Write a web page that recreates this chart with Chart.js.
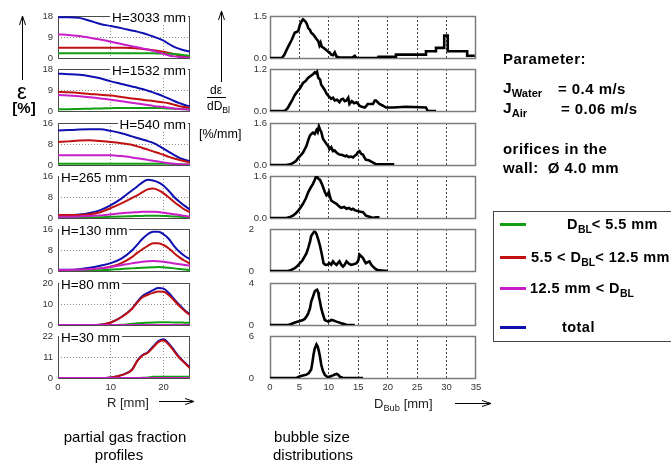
<!DOCTYPE html>
<html>
<head>
<meta charset="utf-8">
<title>Partial gas fraction profiles and bubble size distributions</title>
<script src="https://cdn.jsdelivr.net/npm/chart.js@4.4.1/dist/chart.umd.min.js"></script>
<style>
  html, body { margin: 0; padding: 0; background: #fff; }
  body { position: relative; width: 671px; height: 463px; overflow: hidden;
         font-family: "Liberation Sans", Arial, sans-serif; color: #000; }
  canvas { position: absolute; }
  .txt { position: absolute; white-space: nowrap; line-height: 1; z-index: 3; }
  .vc { transform: translateY(-50%); }
  .hc { transform: translate(-50%, -50%); }
  .b { font-weight: bold; }
  .wide { letter-spacing: 0.45px; }
  .hlab { position: absolute; z-index: 3; background: #fff; font-size: 13.5px; line-height: 13px;
          padding: 0 2px; transform: translateY(-50%); white-space: nowrap; }
  sub { font-size: 0.72em; vertical-align: -0.38em; line-height: 0; letter-spacing: 0; }
  #arrows { position: absolute; left: 0; top: 0; z-index: 2; }
</style>
</head>
<body>

<svg id="arrows" width="671" height="463">
  <g stroke="#000" stroke-width="1" fill="none">
    <path d="M22.5 80 V17 M19.5 25 L22.5 16 L25.5 25"/>
    <path d="M221.5 82 V12 M218.5 20 L221.5 11 L224.5 20"/>
    <path d="M159 401.5 H193 M185 398.5 L194 401.5 L185 404.5"/>
    <path d="M455 403.5 H490 M482 400.5 L491 403.5 L482 406.5"/>
    <path d="M207 97.5 H226"/>
  </g>
</svg>

<!-- axis captions -->
<div class="txt hc" style="left:22px;top:92px;font-size:22px">ε</div>
<div class="txt hc b" style="left:24px;top:107px;font-size:15px">[%]</div>

<div class="txt" style="left:210px;top:84px;font-size:12px">dε</div>
<div class="txt" style="left:207px;top:100px;font-size:12px">dD<sub>Bl</sub></div>
<div class="txt" style="left:199px;top:128px;font-size:12.5px">[%/mm]</div>

<div class="txt vc" style="left:107px;top:402px;font-size:13px;color:#222">R [mm]</div>
<div class="txt vc" style="left:374px;top:403px;font-size:13px;color:#222">D<sub>Bub</sub> [mm]</div>

<div class="txt hc" style="left:125px;top:436px;font-size:15px">partial gas fraction</div>
<div class="txt hc" style="left:119px;top:454px;font-size:15px">profiles</div>
<div class="txt hc" style="left:312px;top:436px;font-size:15px">bubble size</div>
<div class="txt hc" style="left:313px;top:454px;font-size:15px">distributions</div>

<!-- experiment parameters -->
<div class="txt vc b wide" style="left:503px;top:58px;font-size:15px">Parameter:</div>
<div class="txt vc b" style="left:503px;top:88px;font-size:15.5px">J<sub>Water</sub></div>
<div class="txt vc b wide" style="left:558px;top:88px;font-size:15px">= 0.4 m/s</div>
<div class="txt vc b" style="left:503px;top:108px;font-size:15.5px">J<sub>Air</sub></div>
<div class="txt vc b wide" style="left:561px;top:108px;font-size:15px">= 0.06 m/s</div>
<div class="txt vc b wide" style="left:503px;top:148px;font-size:15px">orifices in the</div>
<div class="txt vc b wide" style="left:503px;top:167px;font-size:15px">wall:&nbsp; Ø 4.0 mm</div>

<!-- legend -->
<div style="position:absolute;left:493px;top:211px;width:190px;height:129px;border:1px solid #444"></div>
<div id="legend"></div>

<div id="panels"></div>

<script>
// ---- gas fraction profiles: radial position R [mm] ----
const R = [0, 2, 4, 6, 8, 10, 12, 14, 15, 16, 17, 18, 19, 20, 21, 22, 23, 24, 25];
const R_TICKS = [0, 10, 20];
const HEIGHTS = ['H=3033 mm', 'H=1532 mm', 'H=540 mm', 'H=265 mm', 'H=130 mm', 'H=80 mm', 'H=30 mm'];
const EPS_MAX = [18, 18, 16, 16, 16, 20, 22];

// D_BL < 5.5 mm
const GAS_SMALL = [
  [2.0, 2.0, 2.0, 2.0, 2.0, 2.0, 2.0, 2.0, 2.0, 2.0, 2.0, 2.0, 1.95, 1.9, 1.8, 1.7, 1.5, 1.2, 0.9],
  [0.8, 0.8, 0.9, 1.0, 1.1, 1.2, 1.3, 1.3, 1.3, 1.3, 1.3, 1.3, 1.3, 1.2, 1.1, 1.0, 0.9, 0.8, 0.7],
  [0.5, 0.5, 0.5, 0.5, 0.5, 0.5, 0.5, 0.5, 0.5, 0.5, 0.5, 0.5, 0.5, 0.5, 0.45, 0.4, 0.3, 0.2, 0.1],
  [0, 0, 0.1, 0.2, 0.3, 0.45, 0.6, 0.7, 0.75, 0.8, 0.85, 0.85, 0.85, 0.8, 0.7, 0.6, 0.5, 0.35, 0.2],
  [0, 0, 0, 0.1, 0.3, 0.5, 0.8, 1.0, 1.1, 1.2, 1.3, 1.4, 1.5, 1.4, 1.2, 1.0, 0.8, 0.6, 0.4],
  [0, 0, 0, 0, 0, 0, 0.1, 0.6, 0.8, 1.0, 1.1, 1.2, 1.3, 1.3, 1.3, 1.2, 1.2, 1.1, 1.1],
  [0, 0, 0, 0, 0, 0, 0, 0, 0, 0.1, 0.3, 0.6, 0.6, 0.6, 0.6, 0.6, 0.6, 0.6, 0.6]
];
// 5.5 < D_BL < 12.5 mm
const GAS_MEDIUM = [
  [4.4, 4.4, 4.4, 4.4, 4.4, 4.4, 4.35, 4.3, 4.1, 3.9, 3.6, 3.3, 3.05, 2.7, 2.2, 1.65, 1.1, 0.7, 0.4],
  [8.2, 8.0, 7.7, 7.3, 7.0, 6.6, 6.0, 5.4, 5.1, 4.8, 4.55, 4.3, 4.0, 3.7, 3.3, 2.7, 2.05, 1.7, 1.3],
  [8.75, 9.0, 9.3, 9.4, 9.1, 8.75, 8.3, 7.7, 7.1, 6.5, 5.85, 5.2, 4.55, 3.9, 3.1, 2.5, 1.9, 1.4, 0.95],
  [1.1, 1.1, 1.1, 1.4, 2.2, 3.8, 5.6, 7.6, 8.6, 9.9, 10.9, 11.2, 10.6, 9.4, 7.8, 6.1, 4.6, 3.2, 2.2],
  [0.3, 0.3, 0.4, 0.6, 1.0, 1.6, 3.0, 5.3, 6.9, 8.3, 9.6, 10.6, 10.6, 9.9, 8.6, 6.8, 5.2, 3.9, 2.8],
  [0, 0, 0, 0, 0.1, 1.2, 3.7, 7.6, 10.7, 13.2, 14.4, 15.3, 15.9, 15.8, 14.2, 11.7, 9.0, 6.7, 4.7],
  [0, 0, 0, 0, 0, 0.3, 1.5, 4.2, 8.8, 11.8, 13.2, 16.0, 18.8, 19.6, 17.4, 14.0, 10.5, 7.9, 5.0]
];
// 12.5 mm < D_BL
const GAS_LARGE = [
  [10.1, 9.9, 9.4, 8.7, 7.9, 7.0, 6.0, 5.05, 4.6, 4.1, 3.6, 3.1, 2.4, 1.8, 1.1, 0.7, 0.4, 0.2, 0.1],
  [6.9, 6.6, 6.3, 5.9, 5.4, 4.8, 4.2, 3.5, 3.2, 2.9, 2.55, 2.2, 1.9, 1.7, 1.4, 1.1, 0.9, 0.7, 0.5],
  [3.7, 3.7, 3.7, 3.7, 3.7, 3.7, 3.4, 2.9, 2.6, 2.3, 1.95, 1.6, 1.3, 1.0, 0.7, 0.5, 0.3, 0.2, 0.1],
  [0.5, 0.5, 0.6, 0.8, 1.0, 1.4, 1.8, 2.1, 2.2, 2.35, 2.4, 2.4, 2.3, 2.0, 1.7, 1.4, 1.1, 0.8, 0.5],
  [0.3, 0.4, 0.5, 0.7, 1.0, 1.5, 2.2, 2.9, 3.2, 3.5, 3.7, 3.8, 3.7, 3.5, 3.2, 2.9, 2.6, 2.3, 2.0],
  [0, 0, 0, 0, 0, 0, 0, 0, 0, 0, 0, 0, 0, 0, 0, 0, 0, 0, 0],
  [0, 0, 0, 0, 0, 0, 0, 0, 0, 0, 0, 0, 0, 0, 0, 0, 0, 0, 0]
];
// total
const GAS_TOTAL = [
  [17.5, 17.5, 17.2, 16.0, 14.6, 13.7, 12.8, 11.8, 11.3, 10.7, 10.0, 9.2, 8.4, 7.4, 6.0, 4.8, 3.9, 3.2, 2.7],
  [16.0, 15.8, 15.5, 14.9, 14.0, 12.7, 11.6, 10.5, 10.0, 9.4, 8.7, 8.0, 7.2, 6.3, 5.3, 4.3, 3.35, 2.6, 2.0],
  [13.1, 13.3, 13.5, 13.6, 13.6, 13.0, 12.1, 10.9, 10.3, 9.7, 9.1, 8.4, 7.4, 6.2, 5.0, 3.8, 2.7, 2.0, 1.5],
  [1.1, 1.1, 1.3, 1.9, 3.0, 4.9, 7.4, 10.5, 12.0, 13.6, 14.6, 14.3, 13.6, 12.3, 10.3, 8.0, 6.2, 4.6, 3.2],
  [0.5, 0.5, 0.7, 1.2, 2.0, 3.0, 4.7, 7.8, 10.0, 12.3, 14.0, 15.0, 15.0, 14.0, 12.2, 9.5, 7.3, 5.7, 4.5],
  [0, 0, 0, 0, 0.1, 1.2, 3.8, 7.8, 11.0, 13.8, 15.3, 16.6, 17.6, 17.3, 15.2, 12.3, 9.5, 7.0, 5.0],
  [0, 0, 0, 0, 0, 0.3, 1.5, 4.3, 9.0, 12.0, 13.5, 16.5, 19.3, 20.3, 18.0, 14.5, 10.8, 8.2, 5.3]
];

// ---- bubble size distributions dε/dD [%/mm] over D_Bub [mm] ----
const D_TICKS = [0, 5, 10, 15, 20, 25, 30, 35];
const DIST_MAX = [1.5, 1.2, 1.6, 1.6, 2, 4, 6];
const DIST_TICK_LABELS = [['0.0', '1.5'], ['0.0', '1.2'], ['0.0', '1.6'], ['0.0', '1.6'], ['0', '2'], ['0', '4'], ['0', '6']];
const DIST_D = [
  [0, 2.0, 2.4, 2.8, 3.2, 3.7, 4.2, 4.5, 4.8, 5.1, 5.4, 5.6, 5.9, 6.1, 6.3, 6.5, 6.8, 7.0, 7.3, 7.6, 7.9, 8.2, 8.4, 8.6, 8.8, 9.0, 9.3, 9.6, 9.9, 10.1, 10.4, 10.7, 11.0, 11.3, 11.8, 14.0, 14.4, 14.7, 18.3, 18.4, 21.4, 21.4, 26.5, 26.5, 28.2, 28.2, 29.6, 29.6, 30.2, 30.2, 33.5, 33.5, 34.8],
  [0, 2.5, 3.0, 3.4, 3.8, 4.2, 4.6, 5.1, 5.6, 6.0, 6.5, 6.9, 7.3, 7.6, 7.8, 8.0, 8.2, 8.5, 8.7, 9.0, 9.3, 9.6, 10.0, 10.4, 10.7, 11.0, 11.4, 11.8, 12.1, 12.4, 12.7, 13.0, 13.3, 13.5, 13.9, 14.3, 14.7, 15.0, 15.2, 15.6, 16.1, 16.4, 16.6, 17.0, 17.5, 17.8, 18.0, 18.3, 18.6, 19.2, 19.7, 20.9, 23.1, 26.5, 26.8, 28.2],
  [0, 2.8, 3.4, 3.9, 4.4, 4.8, 5.2, 5.6, 5.9, 6.2, 6.5, 6.8, 7.1, 7.3, 7.6, 7.9, 8.1, 8.3, 8.5, 8.7, 9.0, 9.3, 9.6, 9.9, 10.1, 10.4, 10.7, 11.0, 11.3, 11.6, 11.8, 12.3, 12.8, 13.0, 13.4, 13.8, 14.1, 14.4, 14.7, 14.9, 15.2, 15.5, 15.8, 16.0, 16.3, 16.8, 17.2, 17.6, 18.0, 21.1],
  [0, 2.8, 3.4, 3.9, 4.4, 4.8, 5.2, 5.6, 6.1, 6.5, 7.0, 7.3, 7.6, 7.8, 8.0, 8.2, 8.5, 8.8, 9.0, 9.3, 9.6, 9.8, 10.0, 10.2, 10.4, 10.8, 11.3, 11.7, 12.1, 12.6, 13.0, 13.4, 13.8, 14.1, 14.4, 14.7, 15.2, 15.8, 16.3, 16.9, 17.5, 18.0, 18.6],
  [0, 3.1, 3.6, 4.2, 4.7, 5.1, 5.5, 5.9, 6.2, 6.5, 6.8, 7.0, 7.3, 7.5, 7.7, 7.9, 8.2, 8.5, 8.8, 9.1, 9.4, 9.6, 9.9, 10.1, 10.4, 10.7, 11.0, 11.3, 11.6, 11.8, 12.1, 12.4, 12.7, 13.0, 13.4, 13.8, 14.2, 14.7, 15.0, 15.2, 15.5, 15.8, 16.1, 16.3, 16.6, 16.9, 17.2, 17.5, 18.0, 18.5, 20.0],
  [0, 3.1, 3.5, 3.9, 4.5, 5.1, 5.5, 5.9, 6.2, 6.5, 6.8, 7.0, 7.3, 7.6, 7.8, 8.0, 8.2, 8.3, 8.5, 8.7, 9.0, 9.3, 9.6, 9.9, 10.2, 10.4, 10.8, 11.3, 11.7, 12.1, 12.6, 13.0, 14.4],
  [0, 4.5, 5.1, 5.6, 6.2, 6.6, 7.0, 7.2, 7.4, 7.6, 7.9, 8.1, 8.3, 8.5, 8.7, 9.0, 9.3, 9.6, 9.9, 10.3, 10.7, 11.0, 11.3, 11.6, 11.8, 12.1, 12.4, 15.8]
];
const DIST_V = [
  [0, 0, 0.1, 0.28, 0.45, 0.65, 0.9, 0.93, 0.96, 1.2, 1.32, 1.38, 1.33, 1.28, 1.2, 1.07, 1.0, 0.9, 0.85, 0.77, 0.68, 0.6, 0.45, 0.55, 0.4, 0.38, 0.33, 0.28, 0.22, 0.2, 0.12, 0.1, 0.2, 0.05, 0.02, 0.02, 0.08, 0, 0, 0.04, 0.04, 0.12, 0.12, 0.24, 0.24, 0.36, 0.36, 0.8, 0.8, 0.24, 0.24, 0.08, 0.08],
  [0, 0, 0.08, 0.2, 0.32, 0.45, 0.55, 0.65, 0.8, 0.85, 0.95, 1.0, 1.05, 1.1, 1.08, 1.12, 0.95, 0.9, 0.75, 0.68, 0.6, 0.5, 0.42, 0.35, 0.38, 0.3, 0.32, 0.25, 0.33, 0.35, 0.28, 0.3, 0.38, 0.2, 0.28, 0.22, 0.25, 0.2, 0.15, 0.12, 0.1, 0.15, 0.2, 0.2, 0.2, 0.3, 0.3, 0.25, 0.2, 0.15, 0.1, 0.1, 0.12, 0.1, 0, 0],
  [0, 0, 0.03, 0.07, 0.15, 0.27, 0.37, 0.47, 0.6, 0.73, 0.95, 1.13, 1.2, 1.23, 1.18, 1.33, 1.25, 1.47, 1.35, 1.27, 1.0, 0.9, 0.8, 0.72, 0.6, 0.68, 0.53, 0.55, 0.47, 0.42, 0.4, 0.38, 0.33, 0.36, 0.3, 0.32, 0.29, 0.35, 0.4, 0.48, 0.53, 0.42, 0.4, 0.3, 0.2, 0.18, 0.13, 0.08, 0.03, 0.03],
  [0, 0, 0.04, 0.09, 0.18, 0.28, 0.4, 0.54, 0.75, 0.99, 1.19, 1.3, 1.45, 1.57, 1.57, 1.5, 1.45, 1.3, 1.19, 1.0, 0.86, 0.9, 0.99, 0.8, 0.67, 0.6, 0.54, 0.45, 0.39, 0.42, 0.35, 0.38, 0.32, 0.35, 0.3, 0.28, 0.25, 0.22, 0.09, 0.05, 0, 0.03, 0.03],
  [0, 0, 0.05, 0.13, 0.25, 0.37, 0.5, 0.7, 0.85, 1.1, 1.4, 1.67, 1.8, 1.87, 1.85, 1.76, 1.5, 1.19, 0.8, 0.37, 0.3, 0.29, 0.33, 0.37, 0.3, 0.46, 0.35, 0.29, 0.4, 0.46, 0.3, 0.21, 0.3, 0.46, 0.35, 0.29, 0.32, 0.37, 0.5, 0.78, 0.7, 0.62, 0.45, 0.37, 0.42, 0.46, 0.3, 0.21, 0.08, 0.03, 0],
  [0, 0, 0.08, 0.16, 0.28, 0.38, 0.45, 0.58, 0.8, 1.12, 1.6, 2.24, 2.7, 3.2, 3.3, 3.36, 3.1, 2.72, 2.2, 1.6, 1.0, 0.48, 0.4, 0.32, 0.4, 0.48, 0.42, 0.32, 0.25, 0.16, 0.1, 0, 0],
  [0, 0, 0.24, 0.35, 0.48, 0.7, 1.2, 2.2, 3.36, 4.2, 4.8, 4.5, 3.84, 3.0, 1.92, 1.0, 0.48, 0.25, 0.1, 0.25, 0.38, 0.5, 0.58, 0.45, 0.24, 0.1, 0, 0]
];

// bubble classes, legend text and line colours (order: lower number is drawn on top)
const SERIES = [
  { label: 'D<sub>BL</sub>&lt; 5.5 mm',            color: '#12a012', values: GAS_SMALL,  order: 1 },
  { label: '5.5 &lt; D<sub>BL</sub>&lt; 12.5 mm',  color: '#c01010', values: GAS_MEDIUM, order: 2 },
  { label: '12.5 mm &lt; D<sub>BL</sub>',          color: '#c81ec8', values: GAS_LARGE,  order: 0 },
  { label: 'total',                                 color: '#1010b0', values: GAS_TOTAL,  order: 3 }
];

// ---- layout of the panel grid ----
const ROW_TOP0 = 16, ROW_PITCH = 53.33, PANEL_H = 42, PAD_T = 8, PAD_B = 7;
const TICK_FONT = { family: '"Liberation Sans", Arial, sans-serif', size: 9.5 };

// outline box around each panel, drawn underneath the curves
const framePlugin = {
  id: 'frame',
  beforeDatasetsDraw(chart, args, opts) {
    const { ctx, chartArea: a } = chart;
    ctx.save();
    ctx.strokeStyle = opts.color;
    ctx.lineWidth = opts.width;
    ctx.strokeRect(a.left + 0.5, a.top + 0.5, a.right - a.left - 1, a.bottom - a.top);
    ctx.restore();
  }
};

const host = document.getElementById('panels');

function makeCanvas(left, top, w, h) {
  const c = document.createElement('canvas');
  c.width = w; c.height = h;
  c.style.left = left + 'px'; c.style.top = top + 'px';
  c.style.width = w + 'px'; c.style.height = h + 'px';
  host.appendChild(c);
  return c;
}

function fixedTicks(values) {
  return scale => { scale.ticks = values.map(v => ({ value: v })); };
}
// pin an axis to an exact size and stop tick labels from shrinking the plot area
function fixedSize(prop, px) {
  return scale => {
    scale[prop] = px;
    scale.paddingTop = 0; scale.paddingBottom = 0;
    scale.paddingLeft = 0; scale.paddingRight = 0;
  };
}

// left column: gas fraction profiles
HEIGHTS.forEach((hLabel, i) => {
  const last = i === HEIGHTS.length - 1;
  const top = Math.round(ROW_TOP0 + ROW_PITCH * i);
  const M = EPS_MAX[i];
  const xH = last ? 22 : 0;
  const padB = last ? 0 : PAD_B;
  const canvas = makeCanvas(0, top - PAD_T, 200, PAD_T + PANEL_H + xH + padB);
  new Chart(canvas, {
    type: 'line',
    data: {
      datasets: SERIES.map(s => ({
        data: R.map((r, j) => ({ x: r, y: s.values[i][j] })),
        borderColor: s.color,
        borderWidth: 2,
        pointRadius: 0,
        cubicInterpolationMode: 'monotone',
        order: s.order
      }))
    },
    options: {
      responsive: false, animation: false, events: [],
      layout: { padding: { top: PAD_T, right: 10, bottom: padB, left: 0 } },
      plugins: { legend: { display: false }, tooltip: { enabled: false }, frame: { color: '#4a4a4a', width: 1 } },
      scales: {
        x: {
          type: 'linear', min: 0, max: 25,
          afterBuildTicks: fixedTicks(R_TICKS),
          afterFit: fixedSize('height', xH),
          grid: { drawTicks: false, color: c => (c.tick && c.tick.value > 0) ? '#8c8c8c' : 'rgba(0,0,0,0)' },
          border: { display: false, dash: [1, 2] },
          ticks: { display: last, padding: 4, color: '#333', font: TICK_FONT, maxRotation: 0, autoSkip: false }
        },
        y: {
          min: 0, max: M,
          afterBuildTicks: fixedTicks([0, M / 2, M]),
          afterFit: fixedSize('width', 58),
          grid: { drawTicks: false, color: c => (c.tick && c.tick.value === M / 2) ? '#8c8c8c' : 'rgba(0,0,0,0)' },
          border: { display: false, dash: [1, 2] },
          ticks: { padding: 5, color: '#333', font: TICK_FONT }
        }
      }
    },
    plugins: [framePlugin]
  });

  // height caption sitting on the panel's top edge
  const lab = document.createElement('div');
  lab.className = 'hlab';
  lab.textContent = hLabel;
  lab.style.top = (top + 0.5) + 'px';
  if (i < 3) lab.style.right = (671 - 188) + 'px';
  else lab.style.left = '59px';
  document.body.appendChild(lab);
});

// middle column: bubble size distributions
DIST_D.forEach((dArr, i) => {
  const last = i === DIST_D.length - 1;
  const top = Math.round(ROW_TOP0 + ROW_PITCH * i);
  const M = DIST_MAX[i];
  const xH = last ? 22 : 0;
  const padB = last ? 0 : PAD_B;
  const canvas = makeCanvas(200, top - PAD_T, 285, PAD_T + PANEL_H + xH + padB);
  new Chart(canvas, {
    type: 'line',
    data: {
      datasets: [{
        data: dArr.map((d, j) => ({ x: d, y: DIST_V[i][j] })),
        borderColor: '#000',
        borderWidth: 2.6,
        pointRadius: 0,
        tension: 0
      }]
    },
    options: {
      responsive: false, animation: false, events: [],
      layout: { padding: { top: PAD_T, right: 9, bottom: padB, left: 0 } },
      plugins: { legend: { display: false }, tooltip: { enabled: false }, frame: { color: '#7c7c7c', width: 1.5 } },
      scales: {
        x: {
          type: 'linear', min: 0, max: 35,
          afterBuildTicks: fixedTicks(D_TICKS),
          afterFit: fixedSize('height', xH),
          grid: { drawTicks: false, color: c => (c.tick && c.tick.value > 0 && c.tick.value < 35) ? '#444' : 'rgba(0,0,0,0)' },
          border: { display: false, dash: [2, 2] },
          ticks: { display: last, padding: 4, color: '#333', font: TICK_FONT, maxRotation: 0, autoSkip: false }
        },
        y: {
          min: 0, max: M,
          afterBuildTicks: fixedTicks([0, M]),
          afterFit: fixedSize('width', 70),
          grid: { display: false, drawTicks: false },
          border: { display: false },
          ticks: {
            padding: i < 4 ? 3 : 16, color: '#333', font: TICK_FONT,
            callback: (v, k) => DIST_TICK_LABELS[i][k]
          }
        }
      }
    },
    plugins: [framePlugin]
  });
});

// legend for the bubble classes
const LEG_Y = [224, 257, 288, 327];
const LEG_TEXT_X = [567, 531, 530, 562];
const legend = document.getElementById('legend');
SERIES.forEach((s, k) => {
  const bar = document.createElement('div');
  bar.style.cssText = `position:absolute;left:500px;top:${LEG_Y[k] - 1}px;width:26px;height:2.5px;background:${s.color}`;
  legend.appendChild(bar);
  const t = document.createElement('div');
  t.className = 'txt vc b wide';
  t.style.cssText += `left:${LEG_TEXT_X[k]}px;top:${LEG_Y[k]}px;font-size:14.5px`;
  t.innerHTML = s.label;
  legend.appendChild(t);
});
</script>
</body>
</html>
